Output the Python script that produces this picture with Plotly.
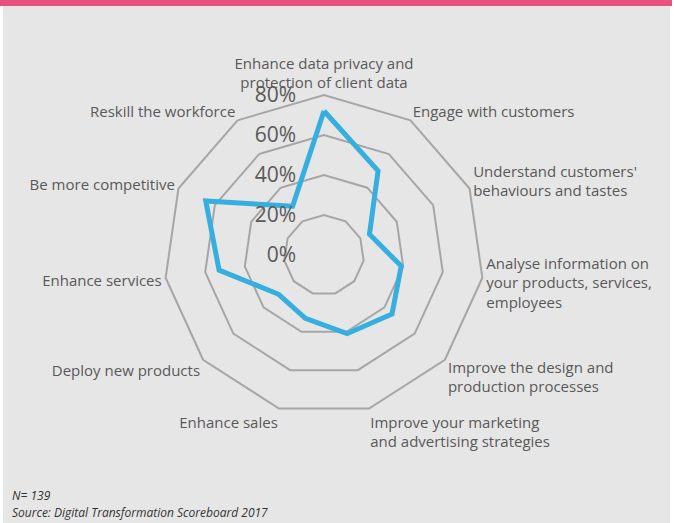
import plotly.graph_objects as go

categories = [
    "Enhance data privacy and<br>protection of client data",
    "Engage with customers",
    "Understand customers'<br>behaviours and tastes",
    "Analyse information on<br>your products, services,<br>employees",
    "Improve the design and<br>production processes",
    "Improve your marketing<br>and advertising strategies",
    "Enhance sales",
    "Deploy new products",
    "Enhance services",
    "Be more competitive",
    "Reskill the workforce",
]
values = [72, 50, 25, 39, 45, 41, 33, 30, 53, 65, 29]
radial_ticks = [0, 20, 40, 60, 80]
radial_labels = ["0%", "20%", "40%", "60%", "80%"]

W, H = 674, 523
cx, cy, rad = 324, 255, 160

fig = go.Figure()
fig.add_trace(go.Scatterpolar(
    r=values + values[:1],
    theta=categories + categories[:1],
    mode="lines",
    line=dict(color="#35aee0", width=5),
    showlegend=False,
))

grid_col = "#a6a6a6"
fig.update_layout(
    width=W, height=H,
    margin=dict(l=0, r=0, t=0, b=0),
    paper_bgcolor="white",
    font=dict(family="Open Sans", size=15, color="#595959"),
    polar=dict(
        domain=dict(x=[(cx - rad) / W, (cx + rad) / W],
                    y=[(H - cy - rad) / H, (H - cy + rad) / H]),
        bgcolor="rgba(0,0,0,0)",
        gridshape="linear",
        angularaxis=dict(
            rotation=90, direction="clockwise",
            showgrid=False, ticks="",
            showline=True, linecolor=grid_col, linewidth=2,
            tickfont=dict(size=15, color="#595959"),
        ),
        radialaxis=dict(
            range=[0, 80], angle=90, side="counterclockwise",
            tickvals=radial_ticks, ticktext=radial_labels,
            showline=False, gridcolor=grid_col, gridwidth=2,
            ticks="outside", ticklen=20, tickcolor="rgba(0,0,0,0)",
            tickfont=dict(size=21, color="#595959"),
            tickangle=90,
        ),
    ),
    shapes=[
        dict(type="rect", xref="paper", yref="paper", layer="below",
             x0=3 / W, x1=670 / W, y0=0, y1=1, line_width=0,
             fillcolor="#e6e6e6"),
        dict(type="rect", xref="paper", yref="paper", layer="below",
             x0=0, x1=672 / W, y0=1 - 6 / H, y1=1, line_width=0,
             fillcolor="#e85080"),
    ],
    annotations=[
        dict(text="<i>N= 139</i>", xref="paper", yref="paper",
             x=10 / W, y=1 - 495 / H, xanchor="left", yanchor="middle",
             showarrow=False, font=dict(size=12, color="#333333")),
        dict(text="<i>Source: Digital Transformation Scoreboard 2017</i>",
             xref="paper", yref="paper",
             x=10 / W, y=1 - 512 / H, xanchor="left", yanchor="middle",
             showarrow=False, font=dict(size=12, color="#333333")),
    ],
)

fig.write_html("out.html", config={"displayModeBar": False},
               post_script="document.body.style.margin='0';")
